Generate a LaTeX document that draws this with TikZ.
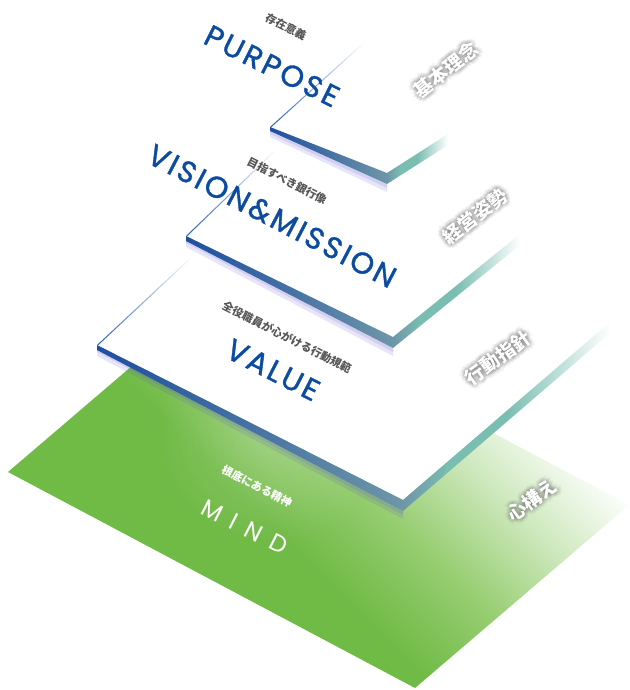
\documentclass[tikz,border=0pt]{standalone}
\usepackage{fontspec}
\usetikzlibrary{calc,fadings}
\newfontfamily\enfont[LetterSpace=9,FakeBold=1.2]{Poppins}
\newfontfamily\mindfont[LetterSpace=45]{Poppins}
\newfontfamily\jpfont{Noto Sans CJK JP}
\definecolor{textblue}{RGB}{12,76,160}
\definecolor{subgray}{RGB}{85,85,85}
\definecolor{linecol}{RGB}{40,95,185}
\definecolor{bandblue}{RGB}{30,78,160}
\definecolor{bandgray}{RGB}{110,150,168}
\definecolor{bandteal}{RGB}{122,190,178}
\definecolor{glowviolet}{RGB}{85,75,205}
\definecolor{mindgreen}{RGB}{112,186,70}
\definecolor{mindlight}{RGB}{150,205,112}
\definecolor{mindpale}{RGB}{205,232,188}
\pgfdeclarehorizontalshading{rightband}{100bp}{color(0bp)=(bandgray); color(25bp)=(bandgray); color(36bp)=(bandteal); color(50bp)=(bandteal); color(75bp)=(white); color(100bp)=(white)}
\pgfdeclarehorizontalshading{mindfade}{100bp}{color(0bp)=(mindgreen); color(44bp)=(mindgreen); color(53bp)=(mindlight); color(62bp)=(mindpale); color(71bp)=(white); color(100bp)=(white)}
\tikzfading[name=softspot, inner color=transparent!78, outer color=transparent!100]

\begin{document}
\begin{tikzpicture}[x=1pt,y=-1pt,
	sublabel/.style={font=\jpfont\bfseries\fontsize{11}{11}\selectfont, text=subgray, inner sep=0pt},
	mainlabel/.style={font=\enfont\fontsize{30}{30}\selectfont, text=textblue, inner sep=0pt},
	sidelabel/.style={font=\jpfont\bfseries\fontsize{19}{19}\selectfont, text=white, inner sep=0pt},
	halo/.style={sidelabel, text=black!60, opacity=0.065},
	shadowstrip/.style={fill=glowviolet, opacity=0.14}]
	\useasboundingbox (0,0) rectangle (629,690);
	
	% MIND
	\coordinate (mL) at (8,472);
	\coordinate (mB) at (415,688);
	\coordinate (mR) at (629,505);
	\coordinate (mT) at (222,289);
	\shade[shading=mindfade, shading angle=45] (mL) -- (mB) -- (mR) -- (mT) -- cycle;
	\begin{scope}
		\clip (mL) -- (mB) -- (mR) -- (mT) -- cycle;
		\fill[white, path fading=softspot] (270,430) circle (115);
	\end{scope}
	\node[sublabel, text=white, rotate=-27] (mindsub) at (257,486) {根底にある精神};
	\node[font=\mindfont\fontsize{24}{24}\selectfont, text=white, inner sep=0pt, rotate=-27] (mind) at (245,527) {MIND};
	\coordinate (kokoro) at (532,500);
	\foreach \a in {0,45,...,315}
		\foreach \r in {1.5,3,4.5}
			\node[halo, rotate=36] (kokoro-\a-\r) at ($(kokoro)+(\a:\r)$) {心構え};
	\node[sidelabel, rotate=36] (kokorolbl) at (kokoro) {心構え};
	
	% VALUE
	\coordinate (vaL) at (97,345);
	\coordinate (vaB) at (403,500);
	\coordinate (vaR) at (610,322);
	\coordinate (vaT) at (190,258);
	\fill[shadowstrip] ($(vaL)+(0,4)$) -- ($(vaB)+(0,11)$) -- ($(vaB)+(0,19)$) -- ($(vaL)+(0,11)$) -- cycle;
	\fill[shadowstrip] ($(vaL)+(0,4)$) -- ($(vaB)+(0,11)$) -- ($(vaB)+(0,15)$) -- ($(vaL)+(0,7)$) -- cycle;
	\fill[white] (vaL) -- (vaB) -- (vaR) -- (vaT) -- cycle;
	\shade[left color=bandblue, right color=bandgray] (vaL) -- (vaB) -- ($(vaB)+(0,11)$) -- ($(vaL)+(0,5)$) -- cycle;
	\shade[shading=rightband] (vaB) -- (vaR) -- ($(vaR)+(0,11)$) -- ($(vaB)+(0,11)$) -- cycle;
	\shade[left color=linecol, right color=white] (vaL) -- (vaT) -- ($(vaT)+(1.5,0)$) -- ($(vaL)+(1.5,0)$) -- cycle;
	\node[sublabel, rotate=-27] (valuesub) at (287,337) {全役職員が心がける行動規範};
	\node[mainlabel, rotate=-27] (value) at (273,370) {VALUE};
	\coordinate (koudou) at (498,358);
	\foreach \a in {0,45,...,315}
		\foreach \r in {1.5,3,4.5}
			\node[halo, rotate=36] (koudou-\a-\r) at ($(koudou)+(\a:\r)$) {行動指針};
	\node[sidelabel, rotate=36] (koudoulbl) at (koudou) {行動指針};
	
	% VISION & MISSION
	\coordinate (viL) at (186,236);
	\coordinate (viB) at (393,337);
	\coordinate (viR) at (520,234);
	\coordinate (viT) at (275,150);
	\fill[shadowstrip] ($(viL)+(0,4)$) -- ($(viB)+(0,11)$) -- ($(viB)+(0,19)$) -- ($(viL)+(0,11)$) -- cycle;
	\fill[shadowstrip] ($(viL)+(0,4)$) -- ($(viB)+(0,11)$) -- ($(viB)+(0,15)$) -- ($(viL)+(0,7)$) -- cycle;
	\fill[white] (viL) -- (viB) -- (viR) -- (viT) -- cycle;
	\shade[left color=bandblue, right color=bandgray] (viL) -- (viB) -- ($(viB)+(0,11)$) -- ($(viL)+(0,5)$) -- cycle;
	\shade[shading=rightband] (viB) -- (viR) -- ($(viR)+(0,11)$) -- ($(viB)+(0,11)$) -- cycle;
	\shade[left color=linecol, right color=white] (viL) -- (viT) -- ($(viT)+(1.5,0)$) -- ($(viL)+(1.5,0)$) -- cycle;
	\node[sublabel, rotate=-27] (visionsub) at (287,181) {目指すべき銀行像};
	\node[mainlabel, rotate=-27.5] (vision) at (272,216) {VISION\&MISSION};
	\coordinate (keiei) at (475,216);
	\foreach \a in {0,45,...,315}
		\foreach \r in {1.5,3,4.5}
			\node[halo, rotate=38] (keiei-\a-\r) at ($(keiei)+(\a:\r)$) {経営姿勢};
	\node[sidelabel, rotate=38] (keieilbl) at (keiei) {経営姿勢};
	
	% PURPOSE
	\coordinate (puL) at (270,127);
	\coordinate (puB) at (387,173);
	\coordinate (puR) at (448,134);
	\coordinate (puT) at (363,43);
	\fill[shadowstrip] ($(puL)+(0,4)$) -- ($(puB)+(0,11)$) -- ($(puB)+(0,19)$) -- ($(puL)+(0,10)$) -- cycle;
	\fill[shadowstrip] ($(puL)+(0,4)$) -- ($(puB)+(0,11)$) -- ($(puB)+(0,15)$) -- ($(puL)+(0,7)$) -- cycle;
	\fill[white] (puL) -- (puB) -- (puR) -- (puT) -- cycle;
	\shade[left color=bandblue, right color=bandgray] (puL) -- (puB) -- ($(puB)+(0,11)$) -- ($(puL)+(0,4)$) -- cycle;
	\shade[shading=rightband] (puB) -- (puR) -- ($(puR)+(0,11)$) -- ($(puB)+(0,11)$) -- cycle;
	\shade[left color=linecol, right color=white] (puL) -- (puT) -- ($(puT)+(1.5,0)$) -- ($(puL)+(1.5,0)$) -- cycle;
	\node[sublabel, rotate=-27] (purposesub) at (286,27) {存在意義};
	\node[mainlabel, rotate=-26.5] (purpose) at (272,66) {PURPOSE};
	\coordinate (kihon) at (446,70);
	\foreach \a in {0,45,...,315}
		\foreach \r in {1.5,3,4.5}
			\node[halo, rotate=38] (kihon-\a-\r) at ($(kihon)+(\a:\r)$) {基本理念};
	\node[sidelabel, rotate=38] (kihonlbl) at (kihon) {基本理念};
\end{tikzpicture}
\end{document}
